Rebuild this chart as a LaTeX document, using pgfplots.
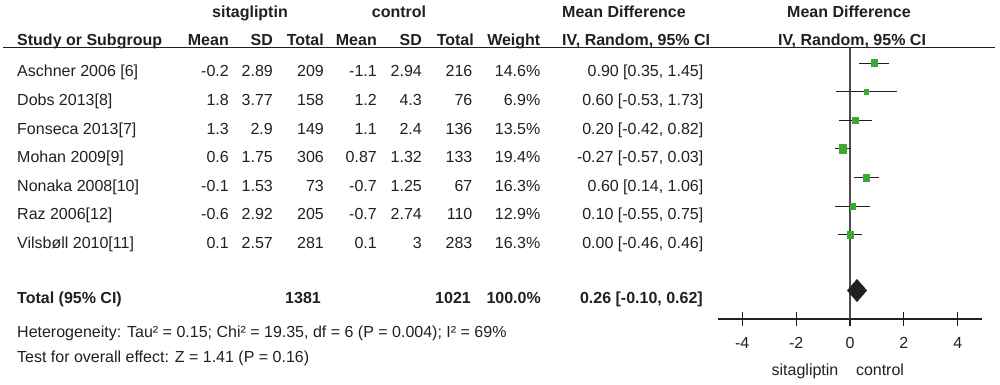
\documentclass[border=0pt]{standalone}
\usepackage{pgfplots}
\usepackage{pgfplotstable}
\pgfplotsset{compat=1.18}
\usepackage{fontspec}
\setmainfont{Liberation Sans}
\definecolor{mdgreen}{HTML}{3BA935}
\definecolor{txt}{HTML}{231F20}
\newcommand{\tl}[3]{\node[anchor=base west,inner sep=0pt,text=txt] at (#1pt,378.2pt-#2pt) {#3};}
\newcommand{\tr}[3]{\node[anchor=base east,inner sep=0pt,text=txt] at (#1pt,378.2pt-#2pt) {#3};}
\newcommand{\tc}[3]{\node[anchor=base,inner sep=0pt,text=txt] at (#1pt,378.2pt-#2pt) {#3};}
\pgfplotstableread{
md y ci ms
0.90 321.0 0.55 3.0
0.60 292.4 1.13 2.0
0.20 263.8 0.62 2.9
-0.27 235.2 0.30 3.6
0.60 206.6 0.46 3.2
0.10 178.0 0.65 2.8
0.00 149.4 0.46 3.2
}\studies
\begin{document}
\fontsize{16}{19}\selectfont
\begin{tikzpicture}
\useasboundingbox (0pt,0pt) rectangle (1000pt,384pt);
\begin{axis}[
  at={(718pt,65pt)}, anchor=south west,
  scale only axis, width=264pt, height=272pt,
  xmin=-4.9, xmax=4.9, ymin=65, ymax=337,
  axis x line*=bottom, axis y line=none,
  x axis line style={-, line width=1.1pt, color=txt},
  xtick={-4,-2,0,2,4}, xticklabels={{-4},{-2},{0},{2},{4}},
  ytick=\empty,
  major tick length=14pt, tick align=center,
  every tick/.style={line width=1.1pt, color=txt},
  xticklabel style={anchor=base, yshift=-22.7pt, text=txt, inner sep=0pt},
  clip=false,
]
\addplot[color=black!70, line width=1.1pt] coordinates {(0,65) (0,337)};
\addplot[fill=txt, draw=txt] coordinates {(-0.10,93.5) (0.26,104.7) (0.62,93.5) (0.26,82.3)} -- cycle;
\addplot[scatter, only marks, mark=square*,
  scatter/use mapped color={draw=mdgreen, fill=mdgreen},
  visualization depends on={\thisrow{ms} \as \msz},
  scatter/@pre marker code/.append style={/tikz/mark size=\msz, /tikz/yscale=1.15},
  error bars/.cd, x dir=both, x explicit, error mark=none,
  error bar style={line width=0.9pt, color=txt}]
  table[x=md, y=y, x error=ci] {\studies};
\end{axis}
\draw[line width=1.3pt, color=txt] (3pt,336.5pt) -- (995pt,336.5pt);
% header line 1
\tc{250}{12}{\bfseries sitagliptin}
\tc{399}{12}{\bfseries control}
\tl{562}{12}{\bfseries Mean Difference}
\tc{849}{12}{\bfseries Mean Difference}
% header line 2
\tl{17}{40}{\bfseries Study or Subgroup}
\tr{229}{40}{\bfseries Mean}
\tr{273}{40}{\bfseries SD}
\tr{324}{40}{\bfseries Total}
\tr{377}{40}{\bfseries Mean}
\tr{422}{40}{\bfseries SD}
\tr{474}{40}{\bfseries Total}
\tr{540.5}{40}{\bfseries Weight}
\tl{562}{40}{\bfseries IV, Random, 95\% CI}
\tc{852}{40}{\bfseries IV, Random, 95\% CI}
% rows
\tl{17}{71}{Aschner 2006 [6]}
\tr{229}{71}{-0.2}\tr{273}{71}{2.89}\tr{324}{71}{209}
\tr{377}{71}{-1.1}\tr{422}{71}{2.94}\tr{472.5}{71}{216}
\tr{540.5}{71}{14.6\%}\tr{703.5}{71}{0.90 [0.35, 1.45]}
\tl{17}{99.6}{Dobs 2013[8]}
\tr{229}{99.6}{1.8}\tr{273}{99.6}{3.77}\tr{324}{99.6}{158}
\tr{377}{99.6}{1.2}\tr{422}{99.6}{4.3}\tr{472.5}{99.6}{76}
\tr{540.5}{99.6}{6.9\%}\tr{703.5}{99.6}{0.60 [-0.53, 1.73]}
\tl{17}{128.2}{Fonseca 2013[7]}
\tr{229}{128.2}{1.3}\tr{273}{128.2}{2.9}\tr{324}{128.2}{149}
\tr{377}{128.2}{1.1}\tr{422}{128.2}{2.4}\tr{472.5}{128.2}{136}
\tr{540.5}{128.2}{13.5\%}\tr{703.5}{128.2}{0.20 [-0.42, 0.82]}
\tl{17}{156.8}{Mohan 2009[9]}
\tr{229}{156.8}{0.6}\tr{273}{156.8}{1.75}\tr{324}{156.8}{306}
\tr{377}{156.8}{0.87}\tr{422}{156.8}{1.32}\tr{472.5}{156.8}{133}
\tr{540.5}{156.8}{19.4\%}\tr{703.5}{156.8}{-0.27 [-0.57, 0.03]}
\tl{17}{185.4}{Nonaka 2008[10]}
\tr{229}{185.4}{-0.1}\tr{273}{185.4}{1.53}\tr{324}{185.4}{73}
\tr{377}{185.4}{-0.7}\tr{422}{185.4}{1.25}\tr{472.5}{185.4}{67}
\tr{540.5}{185.4}{16.3\%}\tr{703.5}{185.4}{0.60 [0.14, 1.06]}
\tl{17}{214}{Raz 2006[12]}
\tr{229}{214}{-0.6}\tr{273}{214}{2.92}\tr{324}{214}{205}
\tr{377}{214}{-0.7}\tr{422}{214}{2.74}\tr{472.5}{214}{110}
\tr{540.5}{214}{12.9\%}\tr{703.5}{214}{0.10 [-0.55, 0.75]}
\tl{17}{242.6}{Vilsbøll 2010[11]}
\tr{229}{242.6}{0.1}\tr{273}{242.6}{2.57}\tr{324}{242.6}{281}
\tr{377}{242.6}{0.1}\tr{422}{242.6}{3}\tr{472.5}{242.6}{283}
\tr{540.5}{242.6}{16.3\%}\tr{703.5}{242.6}{0.00 [-0.46, 0.46]}
% total
\tl{17}{297.5}{\bfseries Total (95\% CI)}
\tr{321}{297.5}{\bfseries 1381}
\tr{471}{297.5}{\bfseries 1021}
\tr{541}{297.5}{\bfseries 100.0\%}
\tr{703}{297.5}{\bfseries 0.26 [-0.10, 0.62]}
\tl{17}{331.7}{Heterogeneity: Tau² = 0.15; Chi² = 19.35, df = 6 (P = 0.004); I² = 69\%}
\tl{17}{357}{Test for overall effect: Z = 1.41 (P = 0.16)}
\tc{805}{370}{sitagliptin}
\tc{880}{370}{control}
\end{tikzpicture}
\end{document}
